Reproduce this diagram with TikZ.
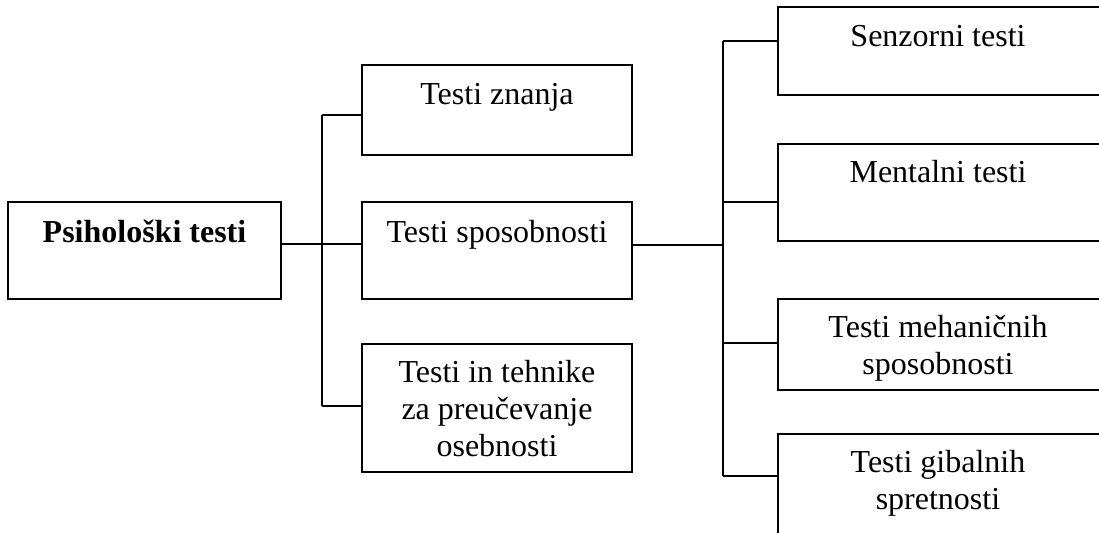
\documentclass[tikz,border=0pt]{standalone}
\usepackage{fontspec}
\setmainfont{Liberation Serif}
\begin{document}
\begin{tikzpicture}[x=0.5pt,y=-0.5pt,
  box/.style={draw,line width=1.1pt,inner sep=0pt},
  lbl/.style={inner sep=0pt,anchor=base,align=center,font=\fontsize{16}{18.5}\selectfont},
  conn/.style={line width=1.1pt}]
\useasboundingbox (0,0) rectangle (1099,533);
% boxes
\draw[box] (8,202) rectangle (281,299) node[pos=0.5] (root) {};
\draw[box] (362,65) rectangle (632,155) node[pos=0.5] (zn) {};
\draw[box] (362,202) rectangle (632,299) node[pos=0.5] (sp) {};
\draw[box] (362,344) rectangle (632,472) node[pos=0.5] (te) {};
\draw[box] (778,7) rectangle (1120,95) node[pos=0.5] (se) {};
\draw[box] (778,144) rectangle (1120,241) node[pos=0.5] (me) {};
\draw[box] (778,299) rectangle (1120,390) node[pos=0.5] (mh) {};
\draw[box] (778,434) rectangle (1120,570) node[pos=0.5] (gi) {};
% labels (multi-line: base anchor is the last line)
\node[lbl,font=\fontsize{16}{18.5}\selectfont\bfseries] (troot) at (144.5,243) {Psihološki testi};
\node[lbl] (tzn) at (497,105) {Testi znanja};
\node[lbl] (tsp) at (497,243) {Testi sposobnosti};
\node[lbl] (tte) at (497,457) {Testi in tehnike\\za preučevanje\\osebnosti};
\node[lbl] (tse) at (938,47) {Senzorni testi};
\node[lbl] (tme) at (938,183) {Mentalni testi};
\node[lbl] (tmh) at (938,375) {Testi mehaničnih\\sposobnosti};
\node[lbl] (tgi) at (938,510) {Testi gibalnih\\spretnosti};
% connector junctions
\coordinate (j1) at (322,244);
\coordinate (j1t) at (322,115);
\coordinate (j1b) at (322,406);
\coordinate (j2) at (723,245);
\coordinate (j2a) at (723,41);
\coordinate (j2b) at (723,202);
\coordinate (j2c) at (723,343);
\coordinate (j2d) at (723,476);
\draw[conn] (281,244) -- (j1) -- (362,244);
\draw[conn] (j1t) -- (j1b);
\draw[conn] (j1t) -- (362,115);
\draw[conn] (j1b) -- (362,406);
\draw[conn] (632,245) -- (j2);
\draw[conn] (j2a) -- (j2d);
\draw[conn] (j2a) -- (778,41);
\draw[conn] (j2b) -- (778,202);
\draw[conn] (j2c) -- (778,343);
\draw[conn] (j2d) -- (778,476);
\end{tikzpicture}
\end{document}
